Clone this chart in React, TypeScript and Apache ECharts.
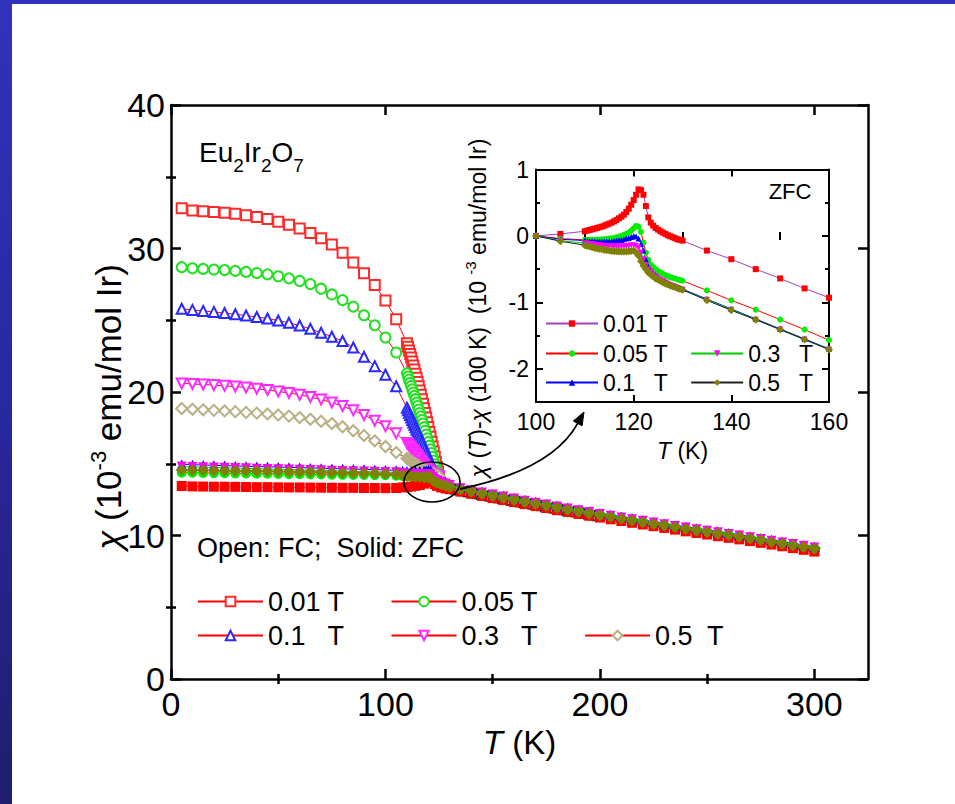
import React, { useEffect, useRef } from 'react';
import * as echarts from 'echarts';

const FONT = '"Liberation Sans", Arial, Helvetica, sans-serif';

// ---------------- main panel: field-cooled (open symbols), T in K, chi in 1e-3 emu/mol Ir
const T_FC = [5, 10, 15, 20, 25, 30, 35, 40, 45, 50, 55, 60, 65, 70, 75, 80, 85, 90, 95, 100, 105,
  110, 110.5, 111, 111.5, 112, 112.5, 113, 113.5, 114, 114.5, 115, 115.5, 116, 116.5, 117, 117.5,
  118, 118.5, 119, 119.5, 120, 120.5, 121, 121.5, 122, 122.5, 123, 123.5, 124, 124.5, 125];
const FC_001 = [32.8, 32.65, 32.6, 32.55, 32.5, 32.42, 32.32, 32.2, 32.05, 31.87, 31.65, 31.4, 31.08, 30.72, 30.28, 29.7, 29.02, 28.27, 27.45, 26.38, 25.07,
  23.4, 23.15, 22.9, 22.65, 22.4, 22.12, 21.84, 21.56, 21.28, 21.0, 20.7, 20.4, 20.1, 19.8, 19.5, 19.18,
  18.86, 18.54, 18.22, 17.9, 17.56, 17.22, 16.88, 16.54, 16.2, 15.85, 15.5, 15.12, 14.75, 14.45, 14.15];
const FC_005 = [28.7, 28.62, 28.58, 28.54, 28.5, 28.44, 28.37, 28.29, 28.2, 28.07, 27.92, 27.74, 27.52, 27.2, 26.8, 26.4, 25.95, 25.35, 24.65, 23.8, 22.75,
  21.3, 21.08, 20.86, 20.64, 20.42, 20.19, 19.96, 19.73, 19.5, 19.26, 19.02, 18.78, 18.54, 18.3, 18.05, 17.8,
  17.55, 17.3, 17.04, 16.78, 16.52, 16.26, 16.0, 15.74, 15.48, 15.22, 14.96, 14.72, 14.5, 14.3, 14.12];
const FC_01 = [25.8, 25.72, 25.65, 25.58, 25.5, 25.42, 25.33, 25.23, 25.12, 24.98, 24.82, 24.63, 24.4, 24.13, 23.85, 23.55, 23.1, 22.45, 21.8, 21.2, 20.4,
  18.9, 18.73, 18.56, 18.39, 18.22, 18.05, 17.88, 17.71, 17.54, 17.37, 17.2, 17.03, 16.86, 16.69, 16.52, 16.35,
  16.18, 16.0, 15.82, 15.64, 15.46, 15.28, 15.1, 14.94, 14.8, 14.66, 14.54, 14.43, 14.33, 14.23, 14.12];
const FC_03 = [20.6, 20.56, 20.52, 20.48, 20.43, 20.38, 20.31, 20.23, 20.14, 20.04, 19.93, 19.8, 19.65, 19.47, 19.27, 19.02, 18.72, 18.4, 18.0, 17.62, 17.12,
  16.45, 16.36, 16.27, 16.18, 16.08, 15.98, 15.88, 15.78, 15.68, 15.58, 15.48, 15.38, 15.28, 15.18, 15.08, 14.98,
  14.88, 14.79, 14.7, 14.62, 14.54, 14.47, 14.41, 14.36, 14.31, 14.27, 14.23, 14.2, 14.17, 14.14, 14.1];
const FC_05 = [18.85, 18.8, 18.76, 18.72, 18.68, 18.63, 18.58, 18.53, 18.47, 18.4, 18.32, 18.22, 18.1, 17.96, 17.8, 17.58, 17.3, 16.97, 16.6, 16.2, 15.78,
  15.38, 15.33, 15.28, 15.23, 15.18, 15.13, 15.08, 15.03, 14.98, 14.93, 14.88, 14.83, 14.78, 14.73, 14.68, 14.63,
  14.59, 14.55, 14.51, 14.47, 14.43, 14.4, 14.37, 14.34, 14.31, 14.28, 14.25, 14.22, 14.19, 14.16, 14.12];

// FC curves of all fields merge above ~125 K
const T_FC_HI = [126, 128, 130, 132, 134, 136, 138, 140, 142, 144, 146, 148, 150, 152, 154, 156, 158, 160, 162, 164,
  166, 168, 170, 172, 174, 176, 178, 180, 182, 184, 186, 188, 190, 192, 194, 196, 198, 200,
  205, 210, 215, 220, 225, 230, 235, 240, 245, 250, 255, 260, 265, 270, 275, 280, 285, 290, 295, 300];
const FC_HI = [13.85, 13.48, 13.32, 13.25, 13.19, 13.13, 13.07, 13.01, 12.95, 12.89, 12.83, 12.77, 12.71, 12.65, 12.6, 12.54, 12.48, 12.43, 12.37, 12.32,
  12.26, 12.21, 12.15, 12.1, 12.04, 11.99, 11.93, 11.88, 11.83, 11.77, 11.72, 11.67, 11.62, 11.56, 11.51, 11.46, 11.41, 11.36,
  11.24, 11.12, 11.0, 10.88, 10.76, 10.64, 10.52, 10.41, 10.3, 10.19, 10.08, 9.97, 9.86, 9.74, 9.62, 9.5, 9.38, 9.26, 9.14, 9.03];

// ---------------- main panel: zero-field-cooled (solid symbols)
const T_ZFC = [5, 10, 15, 20, 25, 30, 35, 40, 45, 50, 55, 60, 65, 70, 75, 80, 85, 90, 95, 100, 105,
  108, 110, 112, 114, 116, 118, 119, 120, 121, 122, 123, 124, 126, 128, 130,
  135, 140, 145, 150, 155, 160, 165, 170, 175, 180, 185, 190, 195, 200, 205, 210, 215, 220, 225,
  230, 235, 240, 245, 250, 255, 260, 265, 270, 275, 280, 285, 290, 295, 300];
const ZFC_001 = [13.45, 13.42, 13.41, 13.4, 13.4, 13.39, 13.38, 13.37, 13.37, 13.36, 13.35, 13.35, 13.34, 13.33, 13.33, 13.32, 13.32, 13.31, 13.31, 13.3, 13.31,
  13.35, 13.37, 13.41, 13.46, 13.52, 13.62, 13.71, 13.84, 14.0, 13.92, 13.58, 13.46, 13.35, 13.28, 13.23,
  13.06, 12.91, 12.76, 12.61, 12.47, 12.33, 12.19, 12.05, 11.91, 11.77, 11.64, 11.51, 11.38, 11.25, 11.13, 11.01, 10.89, 10.77, 10.65,
  10.53, 10.41, 10.29, 10.18, 10.07, 9.95, 9.84, 9.73, 9.61, 9.49, 9.37, 9.25, 9.12, 9.0, 8.88];
const ZFC_005 = [14.38, 14.37, 14.36, 14.35, 14.34, 14.33, 14.32, 14.31, 14.3, 14.29, 14.28, 14.27, 14.26, 14.25, 14.24, 14.23, 14.22, 14.22, 14.21, 14.2, 14.17,
  14.15, 14.14, 14.14, 14.15, 14.16, 14.19, 14.24, 14.32, 14.34, 14.1, 13.84, 13.73, 13.6, 13.5, 13.42,
  13.26, 13.11, 12.96, 12.81, 12.67, 12.53, 12.39, 12.25, 12.12, 11.98, 11.85, 11.72, 11.59, 11.46, 11.34, 11.22, 11.1, 10.98, 10.86,
  10.74, 10.62, 10.51, 10.4, 10.29, 10.18, 10.07, 9.96, 9.84, 9.72, 9.6, 9.48, 9.36, 9.24, 9.13];
const ZFC_01 = [14.95, 14.93, 14.91, 14.89, 14.87, 14.85, 14.83, 14.81, 14.79, 14.77, 14.75, 14.73, 14.71, 14.69, 14.67, 14.65, 14.63, 14.61, 14.59, 14.57, 14.54,
  14.51, 14.5, 14.49, 14.49, 14.49, 14.51, 14.53, 14.56, 14.54, 14.35, 14.07, 14.0, 13.85, 13.72, 13.6,
  13.36, 13.21, 13.06, 12.91, 12.77, 12.63, 12.49, 12.35, 12.22, 12.08, 11.95, 11.82, 11.69, 11.56, 11.44, 11.32, 11.2, 11.08, 10.96,
  10.84, 10.72, 10.61, 10.5, 10.39, 10.28, 10.17, 10.06, 9.94, 9.82, 9.7, 9.58, 9.46, 9.34, 9.23];
const ZFC_03 = [14.8, 14.78, 14.76, 14.74, 14.72, 14.7, 14.68, 14.66, 14.64, 14.62, 14.6, 14.58, 14.56, 14.54, 14.52, 14.5, 14.48, 14.46, 14.44, 14.42, 14.4,
  14.33, 14.32, 14.3, 14.28, 14.27, 14.27, 14.27, 14.28, 14.25, 14.07, 13.92, 13.85, 13.74, 13.62, 13.52,
  13.3, 13.15, 13.0, 12.85, 12.71, 12.57, 12.43, 12.29, 12.16, 12.02, 11.89, 11.76, 11.63, 11.5, 11.38, 11.26, 11.14, 11.02, 10.9,
  10.78, 10.66, 10.55, 10.44, 10.33, 10.22, 10.11, 10.0, 9.88, 9.76, 9.64, 9.52, 9.4, 9.28, 9.17];
const ZFC_05 = [14.56, 14.55, 14.54, 14.53, 14.52, 14.51, 14.5, 14.49, 14.47, 14.46, 14.44, 14.43, 14.42, 14.4, 14.39, 14.37, 14.36, 14.34, 14.32, 14.3, 14.26,
  14.19, 14.16, 14.12, 14.09, 14.07, 14.06, 14.07, 14.08, 14.02, 13.85, 13.75, 13.7, 13.58, 13.47, 13.38,
  13.21, 13.06, 12.91, 12.76, 12.62, 12.48, 12.34, 12.2, 12.07, 11.93, 11.8, 11.67, 11.54, 11.41, 11.29, 11.17, 11.05, 10.93, 10.81,
  10.69, 10.57, 10.46, 10.35, 10.24, 10.13, 10.02, 9.91, 9.79, 9.67, 9.55, 9.43, 9.31, 9.19, 9.08];

// ---------------- inset: chi(T) - chi(100 K), ZFC
const T_IN = [100, 105, 110, 110.5, 111, 111.5, 112, 112.5, 113, 113.5, 114, 114.5, 115, 115.5, 116, 116.5, 117, 117.5,
  118, 118.5, 119, 119.5, 120, 120.5, 121, 121.5, 122, 122.5, 123, 123.5, 124, 124.5, 125, 125.5, 126, 126.5,
  127, 127.5, 128, 128.5, 129, 129.5, 130, 135, 140, 145, 150, 155, 160];
const IN_001 = [0, 0.03, 0.07, 0.08, 0.09, 0.1, 0.11, 0.12, 0.13, 0.14, 0.155, 0.17, 0.185, 0.2, 0.22, 0.24, 0.265, 0.29,
  0.32, 0.36, 0.41, 0.47, 0.54, 0.62, 0.7, 0.69, 0.62, 0.45, 0.28, 0.2, 0.155, 0.12, 0.095, 0.07, 0.05, 0.03,
  0.01, -0.005, -0.02, -0.035, -0.05, -0.06, -0.07, -0.22, -0.35, -0.5, -0.64, -0.79, -0.93];
const IN_005 = [0, -0.04, -0.06, -0.06, -0.06, -0.06, -0.06, -0.055, -0.055, -0.05, -0.05, -0.045, -0.04, -0.035, -0.03, -0.02, -0.01, 0.0,
  0.015, 0.03, 0.05, 0.08, 0.115, 0.15, 0.14, 0.06, -0.1, -0.25, -0.36, -0.43, -0.47, -0.5, -0.53, -0.55, -0.57, -0.59,
  -0.605, -0.62, -0.63, -0.645, -0.655, -0.665, -0.675, -0.82, -0.97, -1.11, -1.26, -1.41, -1.57];
const IN_01 = [0, -0.05, -0.07, -0.075, -0.08, -0.08, -0.085, -0.085, -0.085, -0.085, -0.085, -0.085, -0.08, -0.08, -0.075, -0.07, -0.065, -0.06,
  -0.05, -0.04, -0.03, -0.015, 0.0, -0.01, -0.04, -0.12, -0.22, -0.35, -0.46, -0.52, -0.56, -0.59, -0.62, -0.65, -0.67, -0.69,
  -0.71, -0.73, -0.745, -0.76, -0.775, -0.79, -0.8, -0.95, -1.1, -1.25, -1.4, -1.55, -1.7];
const IN_03 = [0, -0.07, -0.11, -0.115, -0.12, -0.125, -0.13, -0.135, -0.14, -0.145, -0.15, -0.15, -0.155, -0.155, -0.16, -0.16, -0.16, -0.16,
  -0.155, -0.15, -0.15, -0.14, -0.14, -0.15, -0.18, -0.25, -0.35, -0.44, -0.5, -0.54, -0.58, -0.61, -0.64, -0.66, -0.68, -0.7,
  -0.72, -0.74, -0.755, -0.77, -0.785, -0.8, -0.81, -0.96, -1.11, -1.26, -1.41, -1.56, -1.71];
const IN_05 = [0, -0.08, -0.14, -0.15, -0.16, -0.17, -0.18, -0.19, -0.195, -0.2, -0.21, -0.215, -0.22, -0.225, -0.23, -0.23, -0.235, -0.235,
  -0.235, -0.235, -0.23, -0.225, -0.22, -0.25, -0.3, -0.38, -0.45, -0.5, -0.55, -0.58, -0.61, -0.64, -0.66, -0.68, -0.7, -0.72,
  -0.73, -0.75, -0.76, -0.77, -0.785, -0.8, -0.81, -0.97, -1.12, -1.26, -1.41, -1.56, -1.71];

// tick positions
const MAIN_X_MAJOR = [0, 100, 200, 300];
const MAIN_X_MINOR = [50, 150, 250];
const MAIN_Y_MAJOR = [0, 10, 20, 30, 40];
const MAIN_Y_MINOR = [5, 15, 25, 35];
const IN_X_MAJOR = [100, 120, 140, 160];
const IN_X_MINOR = [110, 130, 150];
const IN_Y_MAJOR = [-2, -1, 0, 1];
const IN_Y_MINOR = [-2.5, -1.5, -0.5, 0.5];

// field labels
const FIELDS = ['0.01 T', '0.05 T', '0.1   T', '0.3   T', '0.5  T'];
const FIELDS_IN = ['0.01 T', '0.05 T', '0.1   T', '0.3   T', '0.5   T'];

function pairs(xs: number[], ys: number[]) {
  return xs.map((x, i) => [x, ys[i]]);
}

// ---- text runs with sub/superscripts (pieces laid out with measured widths)
let measureCtx: CanvasRenderingContext2D | null = null;
function measure(t: string, size: number, italic: boolean) {
  if (!measureCtx) measureCtx = document.createElement('canvas').getContext('2d');
  if (!measureCtx) return t.length * size * 0.55;
  measureCtx.font = `${italic ? 'italic ' : ''}${size}px "Liberation Sans"`;
  return measureCtx.measureText(t).width;
}
type Piece = { t: string; s: number; it?: boolean; b?: number };
function textRun(pieces: Piece[], centered: boolean) {
  const w = pieces.map((p) => measure(p.t, p.s, !!p.it));
  const total = w.reduce((a, c) => a + c, 0);
  let x = centered ? -total / 2 : 0;
  return pieces.map((p, i) => {
    const el = {
      type: 'text', x, y: (p.b || 0) - 0.35 * p.s,
      style: {
        text: p.t, fontSize: p.s, fontFamily: FONT, fontStyle: p.it ? 'italic' : 'normal',
        fill: '#000', align: 'left', verticalAlign: 'middle',
      },
    };
    x += w[i];
    return el;
  });
}

function axes(kind: 'x' | 'y', grid: number, min: number, max: number, major: number[], minor: number[],
  o: { lw: number; maj: number; min: number; fs: number; margin: number; name?: string; nameGap?: number; nameFs?: number }) {
  const a = kind === 'x' ? 'bottom' : 'left';
  const b = kind === 'x' ? 'top' : 'right';
  const base: any = {
    type: 'value', gridIndex: grid, min, max, splitLine: { show: false },
    axisLine: { show: true, onZero: false, lineStyle: { color: '#000', width: o.lw } },
  };
  const tick = (len: number, vals: number[]) => ({ show: true, inside: true, length: len, customValues: vals, lineStyle: { color: '#000', width: o.lw } });
  const first: any = {
    ...base, position: a, axisTick: tick(o.maj, major),
    axisLabel: { show: true, customValues: major, fontSize: o.fs, fontFamily: FONT, color: '#000', margin: o.margin },
  };
  if (o.name) {
    first.name = o.name;
    first.nameLocation = 'middle';
    first.nameGap = o.nameGap;
    first.nameTextStyle = {
      fontSize: o.nameFs, fontFamily: FONT, color: '#000',
      rich: { i: { fontSize: o.nameFs, fontFamily: FONT, fontStyle: 'italic', color: '#000' } },
    };
  }
  return [
    first,
    { ...base, position: a, axisLine: { show: false }, axisTick: tick(o.min, minor), axisLabel: { show: false } },
    { ...base, position: b, axisTick: tick(o.maj, major), axisLabel: { show: false } },
    { ...base, position: b, axisLine: { show: false }, axisTick: tick(o.min, minor), axisLabel: { show: false } },
  ];
}

function buildOption(): any {
  const fcSpec = [
    { d: FC_001, sym: 'emptyRect', c: '#ff2a2a', rot: 0, size: 10 },
    { d: FC_005, sym: 'emptyCircle', c: '#22e022', rot: 0, size: 10 },
    { d: FC_01, sym: 'emptyTriangle', c: '#2a2aff', rot: 0, size: 10 },
    { d: FC_03, sym: 'emptyTriangle', c: '#ff2aff', rot: 180, size: 10 },
    { d: FC_05, sym: 'emptyDiamond', c: '#b8b084', rot: 0, size: 11 },
  ];
  const zfcLine = ['#a040c0', '#ff0000', '#0000ff', '#00cc00', '#222222'];
  const zfcSpec = [
    { d: ZFC_001, sym: 'rect', c: '#ff0000', rot: 0, size: 10, line: zfcLine[0], name: FIELDS[0] },
    { d: ZFC_005, sym: 'circle', c: '#00ee00', rot: 0, size: 10, line: zfcLine[1], name: FIELDS[1] },
    { d: ZFC_01, sym: 'triangle', c: '#0000ff', rot: 0, size: 10, line: zfcLine[2], name: FIELDS[2] },
    { d: ZFC_03, sym: 'triangle', c: '#ff00ff', rot: 180, size: 10, line: zfcLine[3], name: FIELDS[3] },
    { d: ZFC_05, sym: 'diamond', c: '#808000', rot: 0, size: 12, line: zfcLine[4], name: FIELDS[4] },
  ];
  const inData = [IN_001, IN_005, IN_01, IN_03, IN_05];

  const series: any[] = [];
  fcSpec.forEach((s, i) => {
    series.push({
      name: 'FC|' + FIELDS[i], type: 'line', xAxisIndex: 0, yAxisIndex: 0,
      data: pairs(T_FC, s.d), symbol: s.sym, symbolSize: s.size, symbolRotate: s.rot,
      itemStyle: { color: s.c, borderWidth: 1 }, lineStyle: { color: '#ff0000', width: 1 },
    });
  });
  zfcSpec.forEach((s) => {
    series.push({
      name: 'ZFC|' + s.name, type: 'line', xAxisIndex: 0, yAxisIndex: 0,
      data: pairs(T_ZFC, s.d), symbol: s.sym, symbolSize: s.size, symbolRotate: s.rot,
      itemStyle: { color: s.c }, lineStyle: { color: s.line, width: 1 },
    });
  });
  series.push({
    name: 'FC|merged', type: 'scatter', xAxisIndex: 0, yAxisIndex: 0,
    data: pairs(T_FC_HI, FC_HI),
    symbol: 'path://M0,-10L9.5,-3.1L5.9,8.1L-5.9,8.1L-9.5,-3.1Z', symbolSize: 10,
    itemStyle: { color: '#ffffff', borderColor: '#000000', borderWidth: 2 },
  });
  zfcSpec.forEach((s, i) => {
    series.push({
      name: 'IN|' + FIELDS_IN[i], type: 'line', xAxisIndex: 4, yAxisIndex: 4,
      data: pairs(T_IN, inData[i]), symbol: s.sym, symbolSize: s.sym === 'diamond' ? 8 : 6, symbolRotate: s.rot,
      itemStyle: { color: s.c }, lineStyle: { color: s.line, width: 1 },
    });
  });

  const legBase = (names: string[], left: number, top: number, fs: number, iw: number, ih: number, gap: number) => ({
    data: names, left, top, orient: 'horizontal', padding: 0, itemGap: gap, itemWidth: iw, itemHeight: ih,
    selectedMode: false, formatter: (n: string) => n.split('|')[1],
    textStyle: { fontSize: fs, fontFamily: FONT, color: '#000' },
  });

  // arrow geometry (annotation)
  const tip = [584, 412];
  const ctl = [552, 470];
  const d = [tip[0] - ctl[0], tip[1] - ctl[1]];
  const L = Math.hypot(d[0], d[1]);
  const u = [d[0] / L, d[1] / L];
  const p = [-u[1], u[0]];
  const bse = [tip[0] - 13 * u[0], tip[1] - 13 * u[1]];

  return {
    animation: false,
    backgroundColor: 'transparent',
    grid: [
      { left: 171, top: 105, width: 697, height: 574 },
      { left: 536, top: 169.5, width: 293, height: 232.5 },
    ],
    xAxis: [
      ...axes('x', 0, 0, 325, MAIN_X_MAJOR, MAIN_X_MINOR, { lw: 2.5, maj: 10, min: 5, fs: 34, margin: 8, name: '{i|T} (K)', nameGap: 47, nameFs: 33 }),
      ...axes('x', 1, 100, 160, IN_X_MAJOR, IN_X_MINOR, { lw: 2, maj: 7, min: 4, fs: 23, margin: 8, name: '{i|T} (K)', nameGap: 37, nameFs: 23 }),
    ],
    yAxis: [
      ...axes('y', 0, 0, 40, MAIN_Y_MAJOR, MAIN_Y_MINOR, { lw: 2.5, maj: 10, min: 5, fs: 34, margin: 6 }),
      ...axes('y', 1, -2.5, 1, IN_Y_MAJOR, IN_Y_MINOR, { lw: 2, maj: 7, min: 4, fs: 23, margin: 7 }),
    ],
    legend: [
      legBase(['FC|' + FIELDS[0], 'FC|' + FIELDS[1]], 197, 588, 27, 65, 12, 46),
      legBase(['FC|' + FIELDS[2], 'FC|' + FIELDS[3], 'FC|' + FIELDS[4]], 197, 622, 27, 65, 12, 46),
      legBase(['IN|' + FIELDS_IN[0]], 545, 312, 23, 52, 8, 22),
      legBase(['IN|' + FIELDS_IN[1], 'IN|' + FIELDS_IN[3]], 545, 342, 23, 52, 8, 22),
      legBase(['IN|' + FIELDS_IN[2], 'IN|' + FIELDS_IN[4]], 545, 371, 23, 52, 8, 22),
    ],
    series,
    graphic: {
      elements: [
        {
          type: 'group', x: 199, y: 162, z: 50,
          children: textRun([
            { t: 'Eu', s: 28 }, { t: '2', s: 19, b: 10 }, { t: 'Ir', s: 28 }, { t: '2', s: 19, b: 10 },
            { t: 'O', s: 28 }, { t: '7', s: 19, b: 10 },
          ], false),
        },
        {
          type: 'text', x: 197, y: 548, z: 50,
          style: { text: 'Open: FC;  Solid: ZFC', fill: '#000', fontSize: 27, fontFamily: FONT, align: 'left', verticalAlign: 'middle' },
        },
        {
          type: 'text', x: 790, y: 191, z: 50,
          style: { text: 'ZFC', fill: '#000', fontSize: 22, fontFamily: FONT, align: 'center', verticalAlign: 'middle' },
        },
        {
          type: 'group', x: 121, y: 407, rotation: Math.PI / 2, z: 50,
          children: textRun([
            { t: 'χ', s: 35, it: true }, { t: ' (10', s: 35 }, { t: '-3', s: 22, b: -15 },
            { t: ' emu/mol Ir)', s: 35 },
          ], true),
        },
        {
          type: 'group', x: 486, y: 308, rotation: Math.PI / 2, z: 50,
          children: textRun([
            { t: 'χ', s: 23, it: true }, { t: ' (', s: 23 }, { t: 'T', s: 23, it: true }, { t: ')-', s: 23 },
            { t: 'χ', s: 23, it: true }, { t: ' (100 K)  (10 ', s: 23 }, { t: '-3', s: 15, b: -10 },
            { t: ' emu/mol Ir)', s: 23 },
          ], true),
        },
        {
          type: 'ellipse', z: 50,
          shape: { cx: 432, cy: 482, rx: 28, ry: 20 },
          style: { fill: 'none', stroke: '#000', lineWidth: 1.6 },
        },
        {
          type: 'bezierCurve', z: 50,
          shape: { x1: 460, y1: 489, cpx1: ctl[0], cpy1: ctl[1], x2: bse[0], y2: bse[1] },
          style: { fill: 'none', stroke: '#000', lineWidth: 1.8 },
        },
        {
          type: 'polygon', z: 50,
          shape: { points: [tip, [bse[0] + 5 * p[0], bse[1] + 5 * p[1]], [bse[0] - 5 * p[0], bse[1] - 5 * p[1]]] },
          style: { fill: '#000', stroke: '#000', lineWidth: 1 },
        },
      ],
    },
  };
}

export default function App() {
  const ref = useRef<HTMLDivElement>(null);
  useEffect(() => {
    if (!ref.current) return;
    const chart = echarts.init(ref.current, null, { renderer: 'svg' });
    chart.setOption(buildOption());
    return () => chart.dispose();
  }, []);
  return (
    <div style={{ position: 'fixed', left: 0, top: 0, width: 955, height: 804, background: 'linear-gradient(180deg, #3232bc 0%, #2828a0 50%, #1e1e6c 100%)' }}>
      <div style={{ position: 'absolute', left: 12, top: 4, width: 943, height: 800, background: '#ffffff' }} />
      <div ref={ref} style={{ position: 'absolute', left: 0, top: 0, width: 955, height: 804 }} />
    </div>
  );
}
